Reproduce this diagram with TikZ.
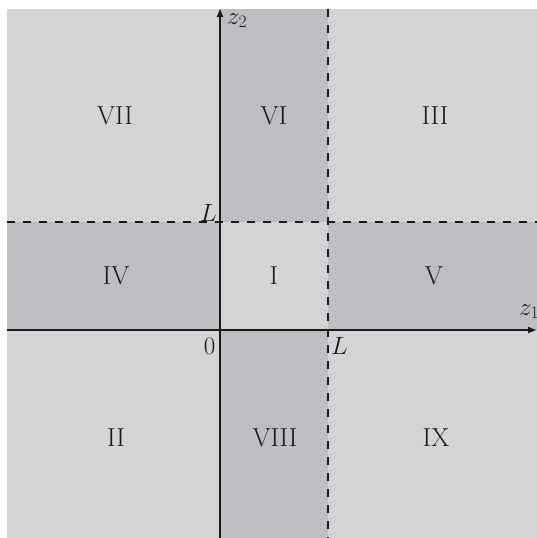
\RequirePackage{fix-cm}
\documentclass[tikz,border=0pt]{standalone}
\usetikzlibrary{arrows.meta}
\definecolor{lightgr}{RGB}{211,212,214}
\definecolor{darkgr}{RGB}{189,190,194}
\definecolor{ink}{RGB}{25,25,25}
\begin{document}
\begin{tikzpicture}[x=1pt,y=-1pt,
  region/.style={font=\fontsize{26}{30}\selectfont, text=ink, inner sep=0pt},
  lab/.style={font=\fontsize{25}{29}\selectfont, text=ink, inner sep=0pt},
  axis/.style={draw=ink, line width=1.3pt, -{Latex[length=9pt,width=7pt]}},
  dashline/.style={draw=ink, line width=1.3pt, dash pattern=on 8pt off 8pt}]
\useasboundingbox (0,0) rectangle (537,538);
% background
\fill[lightgr] (7,9) rectangle (537,538);
\fill[darkgr] (220,9) rectangle (328,222);
\fill[darkgr] (220,330) rectangle (328,538);
\fill[darkgr] (7,222) rectangle (220,330);
\fill[darkgr] (328,222) rectangle (537,330);
% coordinates
\coordinate (xs) at (7,330);
\coordinate (xe) at (537,330);
\coordinate (ys) at (220,538);
\coordinate (ye) at (220,8);
\coordinate (hs) at (7,222);
\coordinate (he) at (537,222);
\coordinate (vs) at (328,9);
\coordinate (ve) at (328,538);
% dashed lines
\draw[dashline] (hs) -- (he);
\draw[dashline] (vs) -- (ve);
% axes
\draw[axis] (xs) -- (xe);
\draw[axis] (ys) -- (ye);
% region labels
\node[region] (r7) at (115,116) {VII};
\node[region] (r6) at (274,116) {VI};
\node[region] (r3) at (435,116) {III};
\node[region] (r4) at (116,276) {IV};
\node[region] (r1) at (274,276) {I};
\node[region] (r5) at (434,276) {V};
\node[region] (r2) at (116,438) {II};
\node[region] (r8) at (275,438) {VIII};
\node[region] (r9) at (436,438) {IX};
% axis labels
\node[lab, anchor=base west] (z2) at (227,24) {$z_2$};
\node[lab, anchor=base west] (z1) at (519,315) {$z_1$};
\node[lab, anchor=base east] (Ltop) at (217,221) {$L$};
\node[lab] (zero) at (209.5,346) {$0$};
\node[lab, anchor=base west] (Lbot) at (331,354) {$L$};
\end{tikzpicture}
\end{document}
